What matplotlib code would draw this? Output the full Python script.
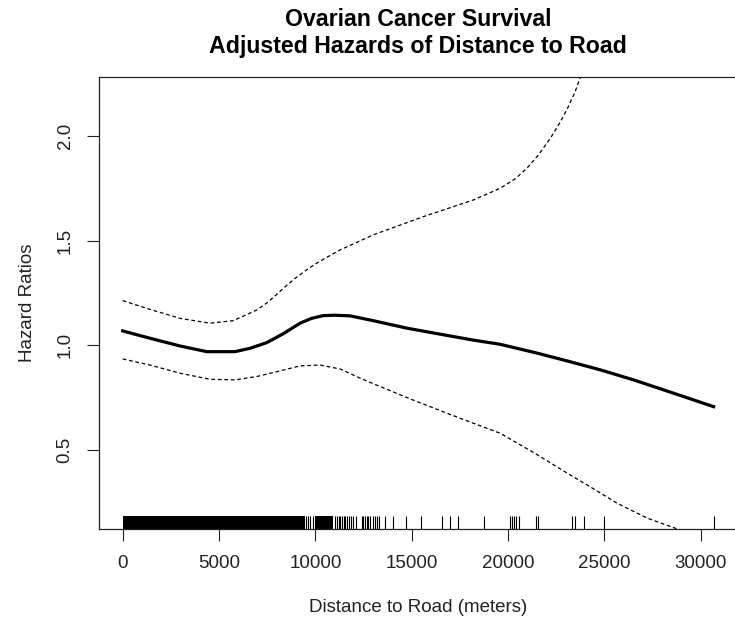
import numpy as np
import matplotlib
matplotlib.use("Agg")
import matplotlib.pyplot as plt

plt.rcParams['font.family'] = ['Liberation Sans', 'DejaVu Sans']

# fitted hazard ratio and 95% band vs distance (meters)
dist_fit = [0, 1417, 2975, 4361, 5831, 6610, 7476, 8340, 9206, 9800, 10400,
            11000, 11800, 13000, 14760, 16500, 18200, 19590, 21500, 23050,
            24780, 26510, 28240, 30665]
hr_fit = [1.068, 1.033, 0.996, 0.969, 0.969, 0.985, 1.012, 1.055, 1.105, 1.128, 1.141,
          1.143, 1.140, 1.117, 1.081, 1.052, 1.024, 1.004, 0.962, 0.925,
          0.882, 0.834, 0.781, 0.706]

dist_upper = [0, 1417, 2975, 4530, 5744, 6955, 7500, 8000, 8500, 9000, 9500,
              10000, 10500, 11282, 13000, 15600, 18200, 19600, 20400, 21000,
              21600, 22200, 22700, 23100, 23450, 23750, 24100]
hr_upper = [1.213, 1.171, 1.128, 1.105, 1.117, 1.168, 1.203, 1.243, 1.285, 1.323, 1.357,
            1.388, 1.415, 1.455, 1.527, 1.614, 1.694, 1.750, 1.797, 1.848,
            1.912, 1.990, 2.065, 2.135, 2.205, 2.280, 2.380]

dist_lower = [0, 1417, 2975, 4530, 5831, 6955, 7993, 9206, 10245, 11284, 12500,
              14920, 17500, 19590, 21300, 23070, 24350, 25650, 27200, 28680, 30650]
hr_lower = [0.934, 0.905, 0.866, 0.837, 0.834, 0.850, 0.873, 0.901, 0.905, 0.886, 0.835,
            0.743, 0.651, 0.579, 0.488, 0.388, 0.318, 0.245, 0.174, 0.125, 0.050]

# rug: stretches where observations are packed solid, plus single observations
rug_blocks = [(0, 9468), (9957, 10894)]
rug_obs = [9532, 9638, 9745, 9851,
           11021, 11128, 11213, 11298, 11383, 11468, 11553, 11638, 11723, 11830,
           11936, 12085, 12404, 12489, 12574, 12660, 12745, 12851, 12979, 13085,
           13191, 13298, 13617, 14043, 14681, 15490, 16553, 16979, 17383, 18766,
           20100, 20200, 20300, 20400, 20560, 21440, 21560, 23310, 23450, 23915,
           24950, 30700]

xticks = [0, 5000, 10000, 15000, 20000, 25000, 30000]
yticks = [0.5, 1.0, 1.5, 2.0]

fig = plt.figure(figsize=(7.35, 6.24), dpi=100)
W, H = 735, 624
left, right, top, bottom = 99, 738, 77.3, 529.3
ax = fig.add_axes([left / W, (H - bottom) / H, (right - left) / W, (bottom - top) / H])

ax.plot(dist_fit, hr_fit, color='black', lw=2.3, solid_joinstyle='round')
ax.plot(dist_upper, hr_upper, color='black', lw=0.9, ls=(0, (3, 2.2)))
ax.plot(dist_lower, hr_lower, color='black', lw=0.9, ls=(0, (3, 2.2)))

tr = ax.get_xaxis_transform()
for x0, x1 in rug_blocks:
    ax.axvspan(x0, x1, ymin=0, ymax=0.03, color='black', lw=0)
ax.vlines(rug_obs, 0, 0.03, transform=tr, color='black', lw=0.8)

# R-style limits: ylim c(0.2, 2.2) padded 4%
ax.set_xlim(-1228, 31928)
ax.set_ylim(0.12, 2.28)

ax.set_xticks(xticks)
ax.set_xticklabels([str(v) for v in xticks])
ax.set_yticks(yticks)
ax.set_yticklabels([f"{v:.1f}" for v in yticks], rotation=90, va='center')
ax.tick_params(direction='out', length=8.3, width=0.8, labelsize=13.5, pad=10,
               colors='#222222')
for s in ax.spines.values():
    s.set_linewidth(0.9)
    s.set_color('#222222')

fig.text(418 / W, 1 - 26 / H, "Ovarian Cancer Survival", ha='center',
         va='baseline', fontsize=16.7, fontweight='bold')
fig.text(418 / W, 1 - 53 / H, "Adjusted Hazards of Distance to Road", ha='center',
         va='baseline', fontsize=16.7, fontweight='bold')
fig.text(418 / W, 1 - 607 / H, "Distance to Road (meters)", ha='center',
         va='center', fontsize=13.5, color='#222222')
fig.text(27 / W, 1 - 303 / H, "Hazard Ratios", ha='center', va='center',
         rotation=90, fontsize=13.5, color='#222222')

fig.savefig("out.png", dpi=100)
